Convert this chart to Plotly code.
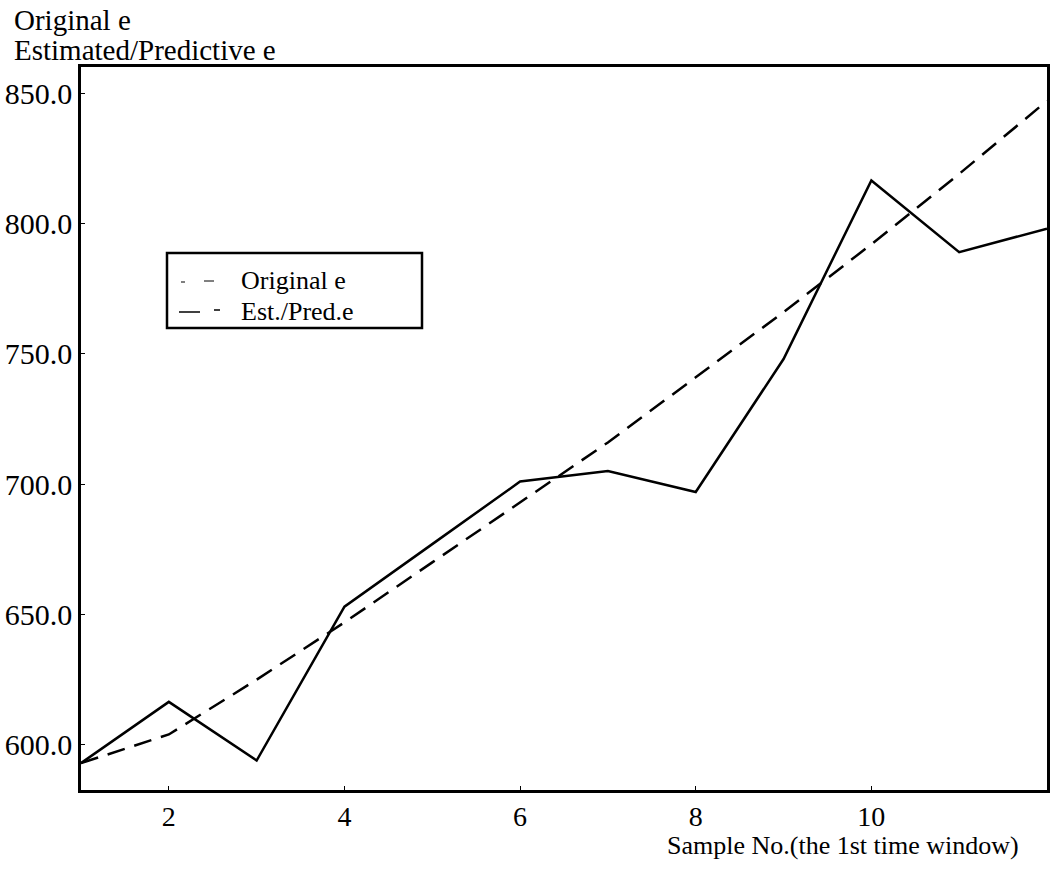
import plotly.graph_objects as go

# ---- data ----
sample_no = [1, 2, 3, 4, 5, 6, 7, 8, 9, 10, 11, 12]
original_e = [593, 616.5, 594, 653, 677, 701, 705, 697, 748, 816.5, 789, 798]
est_pred_e = [593, 604, 625, 647, 670, 693, 716, 741, 766, 792, 819, 847]
x_ticks = [2, 4, 6, 8, 10]
y_ticks = [600, 650, 700, 750, 800, 850]

FONT = "Liberation Serif"
W, H = 1050, 871
L, R, T, B = 81, 1047, 67, 790  # plot area in pixels


def px(x):
    return (x - L) / (R - L)


def py(y):
    return (B - y) / (B - T)


fig = go.Figure()
fig.add_trace(go.Scatter(x=sample_no, y=original_e, mode="lines", name="Original e",
                         line=dict(color="black", width=2.5), showlegend=False))
fig.add_trace(go.Scatter(x=sample_no, y=est_pred_e, mode="lines", name="Est./Pred.e",
                         line=dict(color="black", width=2.5, dash="18px,10px"), showlegend=False))

axis_common = dict(showgrid=False, zeroline=False, showline=True, linecolor="black",
                   linewidth=2.5, mirror=True, ticks="inside", ticklen=4, tickcolor="black")

fig.update_xaxes(range=[1, 12], tickvals=x_ticks, ticktext=[str(v) for v in x_ticks],
                 tickfont=dict(family=FONT, size=28, color="black"), **axis_common)
fig.update_yaxes(range=[582.7, 860], tickvals=y_ticks,
                 ticktext=[f"{v:.1f}" for v in y_ticks], ticklabelstandoff=0,
                 tickfont=dict(family=FONT, size=30, color="black"), **axis_common)

annotations = [
    dict(text="Original e", x=px(12), y=py(20), xanchor="left", yanchor="middle", size=29),
    dict(text="Estimated/Predictive e", x=px(12), y=py(50), xanchor="left", yanchor="middle", size=29),
    dict(text="Sample No.(the 1st time window)", x=px(1021), y=py(845),
         xanchor="right", yanchor="middle", size=26),
    dict(text="Original e", x=px(239), y=py(280), xanchor="left", yanchor="middle", size=26),
    dict(text="Est./Pred.e", x=px(239), y=py(311), xanchor="left", yanchor="middle", size=26),
]
fig.update_layout(annotations=[
    dict(text=a["text"], x=a["x"], y=a["y"], xref="paper", yref="paper",
         xanchor=a["xanchor"], yanchor=a["yanchor"], showarrow=False,
         font=dict(family=FONT, size=a["size"], color="black"))
    for a in annotations
])

shapes = [
    # legend box
    dict(type="rect", xref="paper", yref="paper", x0=px(167), x1=px(422), y0=py(328), y1=py(253),
         line=dict(color="black", width=2.5), fillcolor="white", layer="above"),
    # legend samples
    dict(type="line", xref="paper", yref="paper", x0=px(181), x1=px(185), y0=py(282), y1=py(282),
         line=dict(color="black", width=1)),
    dict(type="line", xref="paper", yref="paper", x0=px(204), x1=px(214), y0=py(281), y1=py(281),
         line=dict(color="black", width=1)),
    dict(type="line", xref="paper", yref="paper", x0=px(179), x1=px(200), y0=py(312), y1=py(312),
         line=dict(color="black", width=1.5)),
    dict(type="line", xref="paper", yref="paper", x0=px(214), x1=px(220), y0=py(310), y1=py(310),
         line=dict(color="black", width=1.5)),
]
fig.update_layout(shapes=shapes)

fig.update_layout(width=W, height=H, margin=dict(l=L, r=W - R, t=T, b=H - B, autoexpand=False),
                  plot_bgcolor="white", paper_bgcolor="white",
                  font=dict(family=FONT, color="black"))

fig.write_html("out.html")
